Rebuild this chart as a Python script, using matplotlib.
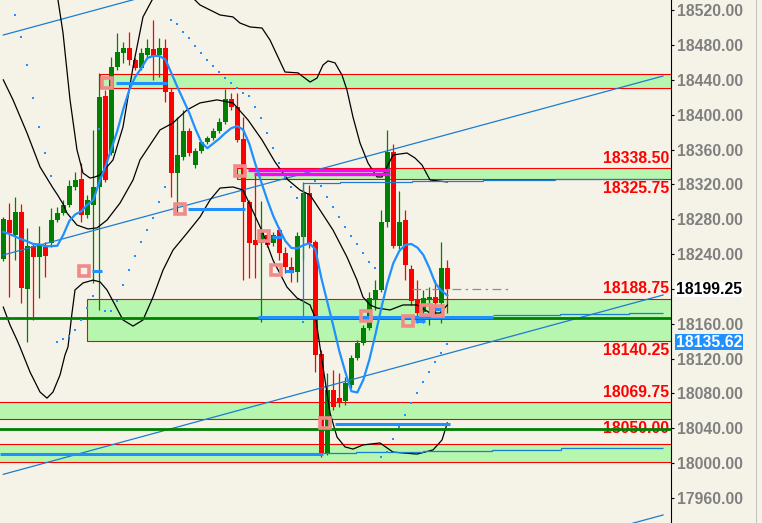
import numpy as np
import matplotlib
matplotlib.use('Agg')
import matplotlib.pyplot as plt
from matplotlib.patches import Rectangle
from matplotlib.lines import Line2D

plt.rcParams['font.family'] = ['Liberation Sans', 'DejaVu Sans']

# ---------------- data (prices) ----------------
opens = [18234.25, 18279, 18261.75, 18288.25, 18199.75, 18249.25, 18236.5, 18248, 18252.75, 18279,
         18287, 18296.25, 18317, 18326.25, 18284.75, 18296.25, 18317, 18421.5, 18356, 18454.75,
         18470.75, 18476.5, 18462.75, 18453.5, 18468.5, 18475.5, 18468.5, 18476.5, 18426, 18333,
         18351.5, 18381.25, 18342.25, 18358.25, 18368.5, 18373.25, 18381.25, 18391.5, 18418, 18408.75,
         18372, 18299.75, 18256, 18252.75, 18261.75, 18252.75, 18267.5, 18241.25, 18225, 18219.25,
         18259.5, 18310, 18253.75, 18125.25, 18011.5, 18083.75, 18074.75, 18071.25, 18089.5, 18120.5,
         18137.75, 18155, 18187.25, 18198.75, 18276.75, 18357.25, 18249.25, 18279, 18222.75, 18187.25,
         18173.5, 18188.25, 18190.5, 18183.75, 18224]
closes = [18280.25, 18264, 18288.25, 18201, 18249.25, 18236.5, 18249.25, 18237.75, 18279, 18287,
          18296.25, 18318, 18325, 18284.75, 18302, 18317, 18420.25, 18325, 18454.75, 18472,
          18476.5, 18462.75, 18453.5, 18470.75, 18476.5, 18467.5, 18476.5, 18426, 18333, 18353.75,
          18381.25, 18356, 18358.25, 18368.5, 18373.25, 18381.25, 18391.5, 18418, 18408.75, 18371,
          18299.75, 18252.75, 18250.25, 18267.5, 18250.25, 18261.75, 18241.25, 18225, 18218.25, 18260.75,
          18310, 18252.75, 18124, 18011.5, 18083.75, 18064.25, 18069, 18091.75, 18120.5, 18137.75,
          18155, 18189.5, 18198.75, 18276.75, 18357.25, 18249.25, 18276.75, 18227.5, 18186, 18172.25,
          18189.5, 18190.5, 18183.75, 18224, 18199.25]
highs = [18282.5, 18298.5, 18305.5, 18297.5, 18269.75, 18252.75, 18272.25, 18253.75, 18292.75, 18294,
         18302, 18325, 18334.25, 18344.5, 18307.75, 18382.5, 18448, 18428.25, 18466.25, 18493.75,
         18483.5, 18495, 18465, 18476.5, 18487, 18508.75, 18488, 18487, 18430.75, 18397.25,
         18405.5, 18384.75, 18361.75, 18371, 18375.5, 18384.75, 18396.25, 18429.5, 18425, 18425,
         18397.25, 18302, 18333, 18300.75, 18264, 18265.25, 18271, 18248, 18236.5, 18265.25,
         18322.75, 18319.25, 18256, 18129.75, 18103.25, 18106.75, 18103.25, 18098.75, 18124, 18141.25,
         18158.5, 18196.25, 18210.25, 18290.5, 18382.5, 18366.25, 18312.25, 18290.5, 18227.5, 18210.25,
         18198.75, 18202, 18210.25, 18253.75, 18233]
lows = [18232, 18190.5, 18233, 18183.75, 18139, 18164.25, 18189.5, 18213.5, 18248, 18276.75,
        18284.75, 18294, 18313.5, 18276.75, 18281.25, 18206.75, 18175.75, 18322.75, 18353.75, 18451.25,
        18459.25, 18457, 18451.25, 18451.25, 18466.25, 18439.75, 18443.25, 18414.5, 18305.5, 18284.75,
        18348, 18352.5, 18338.75, 18356, 18366.25, 18371, 18379, 18389.25, 18405.5, 18368.5,
        18210.25, 18212.5, 18212.5, 18162, 18248, 18249.25, 18233, 18218.25, 18207.75, 18207.75,
        18233, 18247, 18104.5, 18007, 18009.25, 18060.75, 18064.25, 18066.5, 18086, 18118.25,
        18135.5, 18152.75, 18175.75, 18196.25, 18271, 18247, 18245.75, 18210.25, 18181.5, 18160.75,
        18160.75, 18158.5, 18166.5, 18160.75, 18172.25]

ma = [18265.5, 18263, 18260, 18257, 18254.5, 18251.5, 18251, 18249, 18249, 18249.5,
      18262, 18278, 18285.5, 18289, 18296.5, 18302, 18322.5, 18340, 18360.5, 18381.5,
      18406.5, 18428.5, 18443.5, 18453.5, 18465, 18467.5, 18467.5, 18463.5, 18448, 18432,
      18417, 18402, 18384, 18368.5, 18361.5, 18367, 18372.5, 18379, 18384.5, 18387,
      18382.5, 18366.5, 18343.5, 18322.5, 18302, 18283.5, 18268.5, 18255, 18247, 18246.5,
      18250, 18252.5, 18245.5, 18212.5, 18185, 18157.5, 18128.5, 18104.5, 18082.5, 18081,
      18095.5, 18118.5, 18147, 18178, 18206.5, 18229.5, 18243.5, 18250.5, 18251.5, 18247.5,
      18239, 18224, 18206.5, 18198, 18192.5]

nan = float('nan')
psar = [nan, nan, 18514.5, 18489.5, 18457, 18419.5, 18386.25, 18356.25, 18330, 18138.5,
        18142.5, 18146.25, 18152.75, 18164.25, 18178.25, 18191.75, 18383, 18175, 18175, 18186.5,
        18204.5, 18221.75, 18237.75, 18254, 18267.5, 18281.75, 18299.75, 18316.5, 18508.75, 18504,
        18495, 18488, 18479, 18470.75, 18462.75, 18456, 18449, 18442, 18436.5, 18430.5,
        18425, 18421, 18408.75, 18396.25, 18379, 18361.75, 18344.5, 18328.5, 18317, 18304.25,
        18162, nan, 18323.75, 18318, 18305.5, 18294, 18282.5, 18271, 18260.75, 18251.5,
        18241.25, 18230.75, 18224, 18007, 18012.5, 18027.5, 18041.25, 18055, 18069, 18080.5,
        18093, 18104.5, 18116, 18126.25, 18136.75]

band_up_x = [8.12, 9.12, 9.95, 11.12, 12.28, 13.28, 14.45, 15.28, 16.12, 18.28, 19.95, 21.62, 23.28, 24.78,
             26.95, 30.28, 32.78, 36.12, 38.28, 39.45, 41.12, 43.12, 44.45, 46.95, 49.12, 51.12, 52.28,
             53.28, 54.12, 55.28, 56.45, 57.28, 58.28, 59.45, 60.78, 62.28, 63.12, 63.95, 64.95, 67.28,
             68.62, 69.78, 71.12, 74.0]
band_up_y = [18577.5, 18531.5, 18494, 18417, 18359.5, 18333, 18327.25, 18328.5, 18330.75, 18348, 18386,
             18454.75, 18512.25, 18531.5, 18554.5, 18543, 18526, 18514.5, 18512.25, 18505.25, 18500.75,
             18499.5, 18485.75, 18449, 18448, 18437.5, 18442, 18457, 18461.75, 18459.5, 18445.5, 18428.25,
             18397.25, 18367.5, 18344.5, 18328.5, 18328.5, 18340, 18353.75, 18356, 18350.25, 18342.25,
             18325, 18322.75]
band_mid_x = [0, 1.62, 3.95, 6.12, 8.28, 9.12, 9.95, 10.62, 12.28, 14.12, 15.62, 17.28, 19.45, 21.62,
              22.78, 26.12, 28.28, 30.62, 32.78, 35.62, 38.28, 40.78, 43.12, 45.28, 47.45, 49.45, 51.12,
              52.78, 54.95, 57.28, 58.95, 59.95, 61.12, 62.28, 64.45, 66.62, 68.95, 71.12, 72.78, 74.0]
band_mid_y = [18440, 18417, 18379, 18340, 18315.75, 18307, 18297.5, 18287, 18273.25, 18268.75, 18270,
              18279, 18298.5, 18325, 18348, 18382.5, 18390.5, 18405.5, 18413.5, 18417, 18413.5, 18394,
              18371, 18345.75, 18325, 18313.5, 18307.75, 18290.5, 18267.5, 18236.5, 18210, 18190.5,
              18181.5, 18178, 18175.75, 18181.5, 18181.5, 18172.25, 18172.25, 18181.5]
band_low_x = [0, 1.12, 2.28, 2.78, 4.45, 6.12, 7.28, 8.28, 9.45, 10.28, 10.78, 11.45, 11.95, 13.28, 14.95,
              16.12, 17.28, 18.62, 19.95, 21.62, 23.28, 24.95, 26.62, 28.28, 30.62, 32.78, 34.45, 36.12,
              38.28, 39.95, 41.12, 43.28, 44.95, 47.28, 48.95, 51.12, 52.12, 52.78, 53.62, 54.45, 55.62,
              56.95, 58.28, 59.95, 62.78, 64.95, 68.95, 71.62, 73.12, 74.0]
band_low_y = [18179, 18158.5, 18141.25, 18133.25, 18104.5, 18081.5, 18074.5, 18081.5, 18101, 18124,
              18133.25, 18172.25, 18198.75, 18206.75, 18210, 18208, 18198.75, 18181.5, 18164.25, 18157.25,
              18164.25, 18190.5, 18221.5, 18244.5, 18264, 18282.5, 18302, 18315.75, 18317, 18313.5,
              18296.25, 18264, 18233, 18202, 18189.5, 18181.5, 18164.25, 18133.25, 18095.25, 18057.5,
              18029.75, 18018.5, 18016, 18020.75, 18023, 18012.5, 18010.25, 18015, 18026.5, 18046]

# channel lines: price at bar 0 and at right edge
chan_x = [0, 109.95]
chan_left = [18491.5, 18238.9, 17987.0, 17734.4]
chan_right = [18697.0, 18444.4, 18192.9, 17940.3]

# zones
zone_lo = [18430.25, 18325.75, 18140.25, 18050.0, 18000.75]
zone_hi = [18446.5, 18338.5, 18188.75, 18069.75, 18021.5]
zone_start = [16.1, 38.95, 14.0, -5, -5]

level_labels = [18338.50, 18325.75, 18188.75, 18140.25, 18069.75, 18050.00]
level_side = ['above', 'below', 'above', 'below', 'above', 'below']

green_levels = [18166.75, 18039.0]

# thick blue segments (start bar, end bar, price)
seg_x0 = [18.78, 14.78, 30.78, 44.78, 47.0, 55.3, 42.45, 68.6, 71.8, -0.55]
seg_x1 = [27.28, 16.45, 40.28, 46.45, 48.28, 74.45, 81.62, 70.3, 73.5, 53.28]
seg_p = [18436.4, 18220.5, 18291.7, 18259.5, 18220.5, 18044.8, 18168.2, 18163.1, 18176.8, 18010.0]

# pink markers
mark_x = [17.28, 13.45, 29.45, 39.45, 43.45, 45.45, 53.62, 60.45, 67.45, 70.45, 72.45]
mark_p = [18436.4, 18220.5, 18291.7, 18335.3, 18260.7, 18221.6, 18045.9, 18168.8, 18163.1, 18175.7, 18174.6]

# magenta lines
mag_x0 = [40.8, 41.8]
mag_x1 = [64.45, 64.45]
mag_p = [18336.5, 18331.65]

# thin stepped blue lines
stepA_edges = [49.95, 56.12, 68.12, 79.95, 91.95, 109.95]
stepA_vals = [18322, 18323, 18324, 18325.25, 18326.5]
stepA_from = 18166.5
stepB_edges = [81.62, 92.78, 104.28, 109.95]
stepB_vals = [18169.5, 18171, 18172.25]
stepC_edges = [53.28, 58.78, 69.95, 81.45, 92.95, 104.28, 109.95]
stepC_vals = [18011, 18012.25, 18013.75, 18015.25, 18017, 18017.5]

last_price = 18199.25
other_price = 18135.62
dash_x = [68.1, 84.1]

yticks = list(range(17960, 18521, 40))

# ---------------- figure ----------------
W, H, DPI = 762, 523, 100
BG = '#F5F3E7'
ZONE = '#B6F6AF'
RED = '#FF0000'
GREEN = '#008000'
BLUE = '#1E90FF'
THIN = '#1C7CD0'

fig = plt.figure(figsize=(W / DPI, H / DPI), dpi=DPI)
fig.patch.set_facecolor(BG)
AXR = 671
ax = fig.add_axes([0, 0, AXR / W, 1])
ax.set_facecolor(BG)
ax.set_xlim(-0.55, 111.28)
ax.set_ylim(17931.1, 18531.7)
for s in ['top', 'left', 'bottom']:
    ax.spines[s].set_visible(False)
ax.spines['right'].set_color('black')
ax.spines['right'].set_linewidth(0.8)
ax.xaxis.set_visible(False)
ax.yaxis.tick_right()
ax.set_yticks(yticks)
ax.set_yticklabels([f'{v:.2f}' for v in yticks])
ax.tick_params(axis='y', length=2.5, width=0.8, color='black', pad=1.8,
               labelsize=11.3, labelcolor='#7F7F7F')
for lbl in ax.get_yticklabels():
    lbl.set_fontweight('bold')

# zones
for s, lo, hi in zip(zone_start, zone_lo, zone_hi):
    ax.add_patch(Rectangle((s, lo), 130 - s, hi - lo, facecolor=ZONE, edgecolor=RED,
                           lw=0.8, zorder=1))

# red level labels
for v, side in zip(level_labels, level_side):
    off = 7.3 if side == 'above' else -6.8
    ax.annotate(f'{v:.2f}', xy=(1, v), xycoords=('axes fraction', 'data'),
                xytext=(-1.5, off), textcoords='offset points', ha='right', va='center',
                fontsize=11.3, fontweight='bold', color=RED, zorder=3, annotation_clip=False)

# channel lines
for a, b in zip(chan_left, chan_right):
    ax.plot(chan_x, [a, b], color=THIN, lw=0.9, zorder=6)

# candles
for i in range(len(opens)):
    o, c, h, l = opens[i], closes[i], highs[i], lows[i]
    col = GREEN if c >= o else RED
    ax.vlines(i, l, h, color=col, lw=0.9, zorder=4)
    lo_b, hi_b = min(o, c), max(o, c)
    ax.add_patch(Rectangle((i - 0.4, lo_b), 0.8, max(hi_b - lo_b, 1.0),
                           facecolor=col, edgecolor='none', zorder=5))

# bands
ax.plot(band_up_x, band_up_y, color='black', lw=0.9, zorder=6)
ax.plot(band_mid_x, band_mid_y, color='black', lw=0.9, zorder=6)
ax.plot(band_low_x, band_low_y, color='black', lw=0.9, zorder=6)

# thin stepped lines
ax.vlines(stepA_edges[0], stepA_from, stepA_vals[0], color=THIN, lw=0.9, zorder=6)
ax.stairs(stepA_vals, stepA_edges, baseline=None, color=THIN, lw=0.9, zorder=6)
ax.stairs(stepB_vals, stepB_edges, baseline=None, color=THIN, lw=0.9, zorder=6)
ax.stairs(stepC_vals, stepC_edges, baseline=None, color=THIN, lw=0.9, zorder=6)

# green levels
for g in green_levels:
    ax.axhline(g, color=GREEN, lw=2.0, zorder=7)

# magenta
for x0, x1, p in zip(mag_x0, mag_x1, mag_p):
    ax.hlines(p, x0, x1, color='#FF00FF', lw=2.4, zorder=7)

# thick blue segments
for x0, x1, p in zip(seg_x0, seg_x1, seg_p):
    ax.hlines(p, x0, x1, color=BLUE, lw=2.2, zorder=8)

# moving average
ax.plot(range(len(ma)), ma, color=BLUE, lw=1.6, zorder=8)

# psar dots
ax.plot(range(len(psar)), psar, 's', color=BLUE, ms=2.0, mew=0, zorder=9)

# pink markers
ax.plot(mark_x, mark_p, 's', ms=6.8, mfc='none', mec='#F28A8A', mew=2.6, zorder=10)

# last price dashed line
ax.hlines(last_price, dash_x[0], dash_x[1], color='#8C8C8C', lw=0.9,
          linestyles=[(0, (7, 3.5, 2, 3.5))], zorder=6)

# price boxes on axis
def ypx(p):
    return ax.transData.transform((0, p))[1]

yc = ypx(last_price)
fig.add_artist(Rectangle((675 / W, (yc - 7.5) / H), 68 / W, 15 / H, transform=fig.transFigure,
                         facecolor='white', edgecolor='none', zorder=5))
fig.text(709 / W, yc / H, f'{last_price:.2f}', ha='center', va='center', fontsize=11.3,
         fontweight='bold', color='black', zorder=6)
yc2 = ypx(other_price) + 2.5
fig.add_artist(Rectangle((675 / W, (yc2 - 8) / H), 68 / W, 16 / H, transform=fig.transFigure,
                         facecolor=BLUE, edgecolor='none', zorder=5))
fig.text(709 / W, yc2 / H, f'{other_price:.2f}', ha='center', va='center', fontsize=11.3,
         fontweight='bold', color='white', zorder=6)

fig.add_artist(Line2D([755.5 / W] * 2, [0, 1], transform=fig.transFigure, color='#C4C4C4', lw=0.8))

fig.savefig('out.png', dpi=DPI, facecolor=BG)
